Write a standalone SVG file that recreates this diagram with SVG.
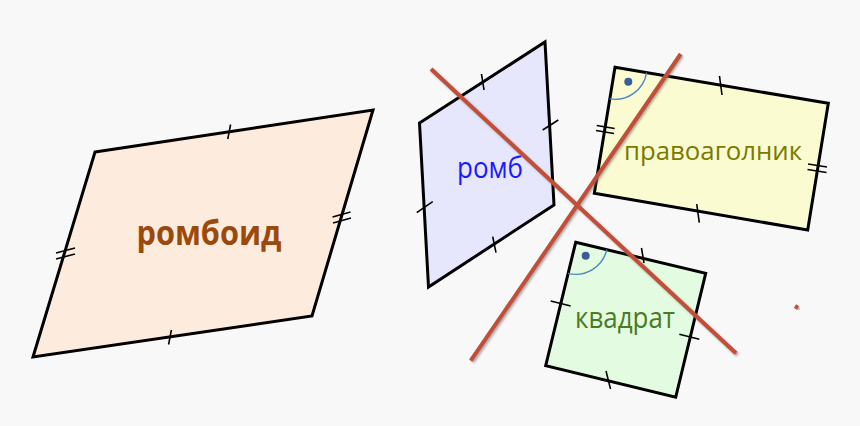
<svg xmlns="http://www.w3.org/2000/svg" width="860" height="426" viewBox="0 0 860 426">
  <defs>
    <filter id="shadow" x="-10%" y="-10%" width="120%" height="120%">
      <feGaussianBlur stdDeviation="1"/>
    </filter>
  </defs>
  <style>
    .shape { stroke: #000; stroke-width: 3; stroke-linejoin: miter; }
    .tick { stroke: #000; stroke-width: 1.6; fill: none; }
    .arc { stroke: #4a86c8; stroke-width: 1.4; fill: none; }
    .dot { fill: #3a5f98; }
    .lbl { font-family: "Open Sans", "Liberation Sans", sans-serif; text-anchor: middle; }
    .red { stroke: #c24e38; stroke-width: 4; stroke-linecap: butt; fill: none; }
    .redshadow { stroke: #777; stroke-width: 4; fill: none; opacity: 0.6; filter: url(#shadow); }
  </style>
  <rect x="0" y="0" width="860" height="426" fill="#f8f8f8"/>

  <g id="romboid">
    <polygon class="shape" points="95,152 373,110 312,316 33,357" fill="#fdebdd"/>
    <line class="tick" x1="227.8" y1="139" x2="230.6" y2="124.5"/>
    <line class="tick" x1="168.6" y1="344.5" x2="171.4" y2="330"/>
    <line class="tick" x1="332.5" y1="217" x2="350.5" y2="212"/>
    <line class="tick" x1="333" y1="223" x2="351" y2="218"/>
    <line class="tick" x1="56" y1="253" x2="75" y2="248"/>
    <line class="tick" x1="56" y1="259" x2="75" y2="254"/>
    <text class="lbl" x="209" y="245" font-size="34" font-weight="bold" fill="#9a4a0c" textLength="145" lengthAdjust="spacingAndGlyphs">ромбоид</text>
  </g>

  <g id="romb">
    <polygon class="shape" points="419.5,123 545,42 554,205 428.5,287" fill="#e6e6fc"/>
    <line class="tick" x1="481.5" y1="74" x2="484" y2="90"/>
    <line class="tick" x1="542.7" y1="130" x2="558.3" y2="120"/>
    <line class="tick" x1="416.7" y1="212.7" x2="432.7" y2="201.7"/>
    <line class="tick" x1="492.7" y1="236.7" x2="496" y2="252.7"/>
    <text class="lbl" x="490" y="178" font-size="29" fill="#1a1aff" textLength="66" lengthAdjust="spacingAndGlyphs">ромб</text>
  </g>

  <g id="pravoagolnik">
    <polygon class="shape" points="615,67.3 828.3,103.3 807.7,230 594.3,193.3" fill="#fbfbd2"/>
    <path class="arc" d="M609.8,98.9 A32,32 0 0 0 646.6,72.6"/>
    <circle class="dot" cx="628.3" cy="81.7" r="4"/>
    <line class="tick" x1="719.5" y1="76" x2="722" y2="95"/>
    <line class="tick" x1="596.7" y1="125.5" x2="614.7" y2="128.5"/>
    <line class="tick" x1="596" y1="130.5" x2="614" y2="133.5"/>
    <line class="tick" x1="808" y1="164" x2="827" y2="167"/>
    <line class="tick" x1="807.5" y1="169.5" x2="826.5" y2="172.5"/>
    <line class="tick" x1="696.7" y1="204" x2="699.3" y2="222.7"/>
    <text class="lbl" x="713" y="159.5" font-size="26" fill="#7a7a00" textLength="178" lengthAdjust="spacingAndGlyphs">правоаголник</text>
  </g>

  <g id="kvadrat">
    <polygon class="shape" points="575.7,242.3 705.7,273.3 675.7,397.3 545.7,365.7" fill="#e3fbe0"/>
    <path class="arc" d="M568.1,273.4 A32,32 0 0 0 606.8,249.7"/>
    <circle class="dot" cx="585.7" cy="255.7" r="4"/>
    <line class="tick" x1="641.5" y1="248" x2="644" y2="263"/>
    <line class="tick" x1="550.7" y1="301" x2="570.7" y2="306"/>
    <line class="tick" x1="679.3" y1="334.3" x2="699.3" y2="339.3"/>
    <line class="tick" x1="606" y1="371" x2="610.5" y2="389"/>
    <text class="lbl" x="625" y="328" font-size="29" fill="#4a7a22" textLength="100" lengthAdjust="spacingAndGlyphs">квадрат</text>
  </g>

  <g id="connectors">
    <line class="redshadow" x1="432.5" y1="70.5" x2="737.5" y2="355"/>
    <line class="redshadow" x1="682" y1="55.5" x2="472.5" y2="362"/>
    <line class="redshadow" x1="796.5" y1="307.5" x2="799.5" y2="309.5"/>
    <line class="red" x1="431" y1="69" x2="736" y2="353.3"/>
    <line class="red" x1="680.7" y1="54" x2="470.7" y2="360.7"/>
    <line class="red" x1="795" y1="306" x2="798" y2="308" stroke-width="2.5"/>
  </g>
</svg>
